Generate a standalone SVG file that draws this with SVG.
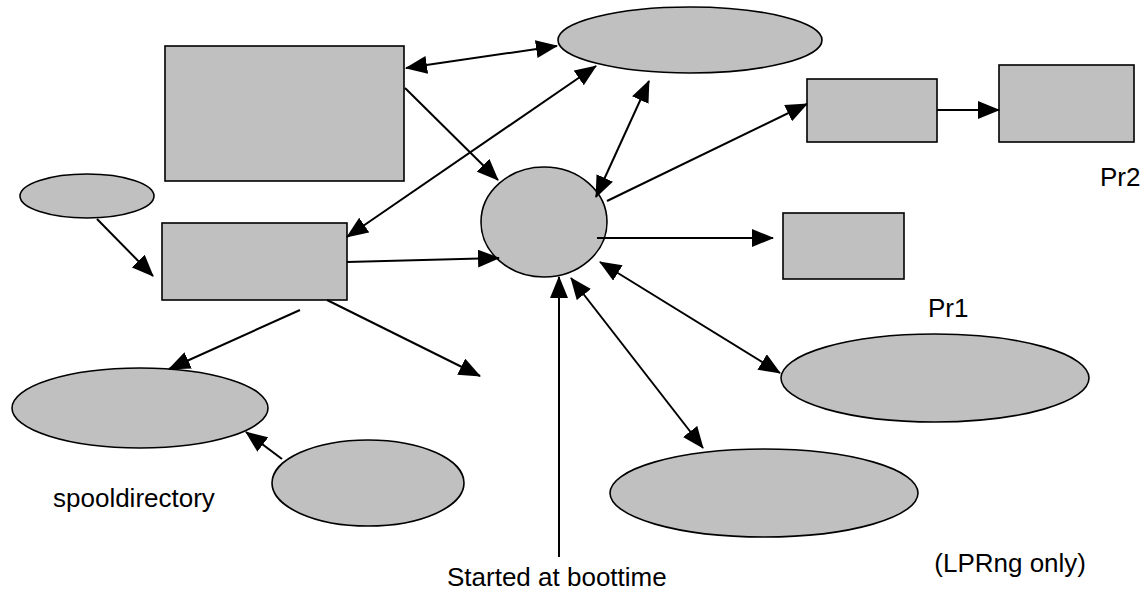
<svg xmlns="http://www.w3.org/2000/svg" width="1146" height="594" viewBox="0 0 1146 594">
<style>
.n{fill:#c0c0c0;stroke:#000;stroke-width:1.6}
.c{fill:none;stroke:#000;stroke-width:2}
.a{marker-end:url(#ah)}
.d{marker-start:url(#ah);marker-end:url(#ah)}
text{font-family:"Liberation Sans",Arial,sans-serif;font-size:26px;fill:#000}
</style>
<defs>
<marker id="ah" markerUnits="userSpaceOnUse" markerWidth="22" markerHeight="18" viewBox="0 0 22 18" refX="21" refY="9" orient="auto-start-reverse">
<path d="M0,0 L22,9 L0,18 z" fill="#000"/>
</marker>
</defs>
<rect width="1146" height="594" fill="#fff"/>
<g id="n-bigrect"><rect class="n" x="165" y="46" width="239" height="135"/></g>
<g id="n-topellipse"><ellipse class="n" cx="690" cy="40" rx="132" ry="33"/></g>
<g id="n-smallellipse"><ellipse class="n" cx="87" cy="196" rx="67" ry="22"/></g>
<g id="n-midrect"><rect class="n" x="162" y="223" width="185" height="77"/></g>
<g id="n-circle"><ellipse class="n" cx="544" cy="222" rx="63" ry="55"/></g>
<g id="n-pr1box"><rect class="n" x="783" y="213" width="121" height="66"/></g>
<g id="n-rect1"><rect class="n" x="807" y="79" width="130" height="63"/></g>
<g id="n-rect2"><rect class="n" x="999" y="65" width="135" height="77"/></g>
<g id="n-rightellipse"><ellipse class="n" cx="935" cy="378" rx="154" ry="44"/></g>
<g id="n-bottomellipse"><ellipse class="n" cx="764" cy="493" rx="154" ry="44"/></g>
<g id="n-spoolellipse"><ellipse class="n" cx="140" cy="408" rx="128" ry="40"/></g>
<g id="n-smallcircle"><ellipse class="n" cx="368" cy="483" rx="96" ry="43"/></g>
<g id="labels">
<text x="1100" y="186">Pr2</text>
<text x="928" y="317">Pr1</text>
<text x="53" y="507">spooldirectory</text>
<text x="447" y="586">Started at boottime</text>
<text x="1086" y="572" text-anchor="end">(LPRng only)</text>
</g>
<g id="connectors">
<line class="c d" x1="406" y1="68" x2="557" y2="46"/>
<line class="c a" x1="405" y1="88" x2="498" y2="180"/>
<line class="c d" x1="347" y1="237" x2="596" y2="66"/>
<line class="c d" x1="649" y1="81" x2="596" y2="197"/>
<line class="c a" x1="607" y1="201" x2="807" y2="104"/>
<line class="c a" x1="937" y1="110" x2="999" y2="110"/>
<line class="c a" x1="597" y1="238" x2="773" y2="238"/>
<line class="c a" x1="97" y1="219" x2="153" y2="276"/>
<line class="c a" x1="347" y1="262" x2="499" y2="258"/>
<line class="c a" x1="300" y1="310" x2="169" y2="369"/>
<line class="c a" x1="327" y1="300" x2="480" y2="376"/>
<line class="c a" x1="559" y1="557" x2="559" y2="277"/>
<line class="c d" x1="571" y1="278" x2="703" y2="448"/>
<line class="c d" x1="600" y1="262" x2="780" y2="373"/>
<line class="c a" x1="282" y1="459" x2="246" y2="432"/>
</g>
</svg>
